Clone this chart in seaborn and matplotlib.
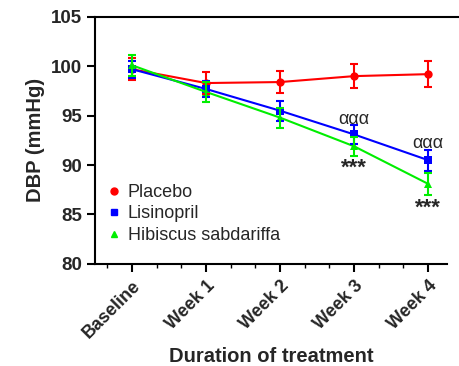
import matplotlib
matplotlib.use("Agg")
import matplotlib.pyplot as plt
from matplotlib.lines import Line2D
from matplotlib.ticker import MultipleLocator
import pandas as pd
import seaborn as sns

timepoints = ["Baseline", "Week 1", "Week 2", "Week 3", "Week 4"]
groups = ["Placebo", "Lisinopril", "Hibiscus sabdariffa"]
placebo = [99.7, 98.3, 98.4, 99.0, 99.2]
placebo_err = [1.1, 1.1, 1.15, 1.25, 1.3]
lisinopril = [99.7, 97.7, 95.5, 93.1, 90.5]
lisinopril_err = [0.85, 0.85, 1.0, 1.0, 1.05]
hibiscus = [100.1, 97.4, 94.8, 91.9, 88.1]
hibiscus_err = [1.05, 1.0, 1.0, 0.95, 1.1]
alpha_marks = {"Week 3": 94.6, "Week 4": 92.2}
star_marks = {"Week 3": 89.7, "Week 4": 85.6}

colors = ["#ff0000", "#0000ff", "#00ee00"]
markers = ["o", "s", "^"]

rows = []
for g, vals, errs in zip(groups, [placebo, lisinopril, hibiscus],
                         [placebo_err, lisinopril_err, hibiscus_err]):
    for i, (v, e) in enumerate(zip(vals, errs)):
        rows.append({"group": g, "pos": i, "time": timepoints[i], "dbp": v, "sd": e})
df = pd.DataFrame(rows)

sns.set_style("ticks")
plt.rcParams["font.family"] = ["Liberation Sans", "DejaVu Sans"]

fig = plt.figure(figsize=(4.6, 3.66), dpi=100)
ax = fig.add_axes([0.2065, 0.279, 0.766, 0.675])

sns.lineplot(data=df, x="pos", y="dbp", hue="group", style="group",
             palette=colors, markers=markers, dashes=False, markersize=6,
             markeredgewidth=0, linewidth=1.5, legend=False, ax=ax)
for g, c in zip(groups, colors):
    sub = df[df["group"] == g]
    ax.errorbar(sub["pos"], sub["dbp"], yerr=sub["sd"], fmt="none",
                ecolor=c, elinewidth=1.5, capsize=3, capthick=1.5)

for t, y in alpha_marks.items():
    ax.text(timepoints.index(t), y, "ααα", ha="center", va="center", fontsize=13)
for t, y in star_marks.items():
    ax.text(timepoints.index(t), y, "***", ha="center", va="center",
            fontsize=16, fontweight="bold")

ax.set_xlim(-0.5, 4.26)
ax.set_ylim(80, 105)
ax.set_xticks(range(len(timepoints)))
ax.set_xticklabels(timepoints, rotation=45, ha="right", rotation_mode="anchor",
                   fontsize=13, fontweight="bold")
ax.xaxis.set_minor_locator(MultipleLocator(1 / 3))
ax.yaxis.set_major_locator(MultipleLocator(5))
for lab in ax.get_yticklabels():
    lab.set_fontweight("bold")
    lab.set_fontsize(13.5)
ax.tick_params(axis="both", which="major", length=6, width=1.5, color="black")
ax.tick_params(axis="x", which="minor", length=3, width=1, color="black")
ax.tick_params(axis="y", which="minor", length=0)
ax.set_xlabel("Duration of treatment", fontsize=14.5, fontweight="bold")
ax.set_ylabel("DBP (mmHg)", fontsize=14.5, fontweight="bold")

for side in ["left", "bottom", "top"]:
    ax.spines[side].set_linewidth(1.5)
    ax.spines[side].set_color("black")
ax.spines["right"].set_visible(False)
ax.spines["top"].set_bounds(-0.5, 4.6)

handles = [Line2D([], [], linestyle="none", marker=m, color=c, markersize=5)
           for m, c in zip(markers, colors)]
ax.legend(handles, groups, loc="lower left", bbox_to_anchor=(-0.023, 0.015),
          frameon=False, fontsize=13, handletextpad=0.15, labelspacing=0.25,
          handlelength=1.2)

fig.savefig("out.png", dpi=100)
